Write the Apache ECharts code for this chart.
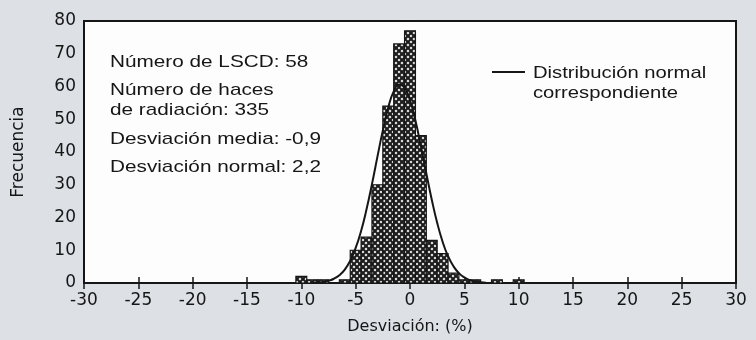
<!DOCTYPE html>
<html lang="es">
<head>
    <meta charset="UTF-8">
    <title>Desviación</title>
    <script src="https://cdn.jsdelivr.net/npm/echarts@6/dist/echarts.min.js"></script>
    <style>
        html, body { margin: 0; padding: 0; background: #dde1e6; }
        #chart { width: 756px; height: 340px; }
    </style>
</head>
<body>
<div id="chart"></div>
<script>
    // histograma: centro de cada clase (ancho 1 %) y frecuencia
    var binCenters = [-10, -9, -8, -6, -5, -4, -3, -2, -1, 0, 1, 2, 3, 4, 5, 6, 8, 10];
    var binCounts  = [2, 1, 1, 1, 10, 14, 30, 54, 73, 77, 45, 13, 9, 3, 1, 1, 1, 1];

    // curva normal
    var curveX = [-9, -8.5, -8, -7.5, -7, -6.5, -6, -5.5, -5, -4.5, -4, -3.5, -3, -2.5, -2, -1.5, -1,
                  -0.5, 0, 0.5, 1, 1.5, 2, 2.5, 3, 3.5, 4, 4.5, 5, 5.5, 6, 6.5, 7];
    var curveY = [0.1, 0.2, 0.3, 0.7, 1.3, 2.4, 4.1, 6.8, 10.7, 15.9, 22.5, 30.2, 38.5, 46.6, 53.6, 58.5, 60.6,
                  59.7, 55.8, 49.6, 41.8, 33.5, 25.5, 18.4, 12.6, 8.2, 5.1, 3.0, 1.7, 0.9, 0.4, 0.2, 0.1];

    var xTicks = [-30, 30, 5];
    var yTicks = [0, 80, 10];

    var infoLines = ['Número de LSCD: 58', 'Número de haces', 'de radiación: 335',
                     'Desviación media: -0,9', 'Desviación normal: 2,2'];
    var legendLines = ['Distribución normal', 'correspondiente'];

    // textura de las barras
    var tile = document.createElement('canvas');
    tile.width = 6; tile.height = 6;
    var tc = tile.getContext('2d');
    tc.fillStyle = '#f4f4f4';
    tc.fillRect(0, 0, 6, 6);
    tc.strokeStyle = '#1c1c1c';
    tc.lineWidth = 2.2;
    tc.beginPath();
    tc.moveTo(-1, -1); tc.lineTo(7, 7);
    tc.moveTo(-1, 7); tc.lineTo(7, -1);
    tc.stroke();
    var hatch = { image: tile, repeat: 'repeat' };

    var font = '17px "Liberation Sans", Arial, sans-serif';
    var wide = '"DejaVu Sans", sans-serif';
    var ink = '#161616';

    var graphics = [];
    var infoY = [62, 90, 110, 139, 167];
    infoLines.forEach(function (t, i) {
        graphics.push({
            type: 'text', x: 110, y: infoY[i], scaleX: 1.22, z: 10,
            style: { text: t, font: font, fill: ink, align: 'left', verticalAlign: 'middle',
                     textAlign: 'left', textVerticalAlign: 'middle' }
        });
    });
    graphics.push({
        type: 'line', z: 10,
        shape: { x1: 492, y1: 72, x2: 525, y2: 72 },
        style: { stroke: ink, lineWidth: 2 }
    });
    legendLines.forEach(function (t, i) {
        graphics.push({
            type: 'text', x: 533, y: 73 + i * 20, scaleX: 1.19, z: 10,
            style: { text: t, font: font, fill: ink, align: 'left', verticalAlign: 'middle',
                     textAlign: 'left', textVerticalAlign: 'middle' }
        });
    });

    var histData = binCenters.map(function (c, i) { return [c, binCounts[i]]; });
    var curveData = curveX.map(function (x, i) { return [x, curveY[i]]; });

    var chart = echarts.init(document.getElementById('chart'));

    var tickStyle = { inside: true, length: 6, lineStyle: { color: ink, width: 1.5 } };
    var labelStyle = { color: ink, fontSize: 17, fontFamily: wide };

    var option = {
        backgroundColor: '#dde1e6',
        animation: false,
        grid: {
            left: 84, right: 20, top: 21, bottom: 57,
            show: true, backgroundColor: '#fdfdfd', borderColor: ink, borderWidth: 2
        },
        xAxis: [{
            type: 'value', min: xTicks[0], max: xTicks[1], interval: xTicks[2],
            name: 'Desviación: (%)', nameLocation: 'middle', nameGap: 36,
            nameTextStyle: { color: ink, fontSize: 16, fontFamily: wide },
            axisLine: { show: false }, axisTick: tickStyle, splitLine: { show: false },
            axisLabel: Object.assign({ margin: 9 }, labelStyle)
        }, {
            type: 'value', position: 'top', min: xTicks[0], max: xTicks[1], interval: xTicks[2],
            axisLine: { show: false }, axisTick: tickStyle, splitLine: { show: false },
            axisLabel: { show: false }
        }],
        yAxis: [{
            type: 'value', min: yTicks[0], max: yTicks[1], interval: yTicks[2],
            name: 'Frecuencia', nameLocation: 'middle', nameGap: 57,
            nameTextStyle: { color: ink, fontSize: 17, fontFamily: wide },
            axisLine: { show: false }, axisTick: tickStyle, splitLine: { show: false },
            axisLabel: Object.assign({ margin: 8 }, labelStyle)
        }, {
            type: 'value', position: 'right', min: yTicks[0], max: yTicks[1], interval: yTicks[2],
            axisLine: { show: false }, axisTick: tickStyle, splitLine: { show: false },
            axisLabel: { show: false }
        }],
        graphic: graphics,
        series: [{
            type: 'custom',
            data: histData,
            renderItem: function (params, api) {
                var c = api.value(0), v = api.value(1);
                var p0 = api.coord([c - 0.5, v]);
                var p1 = api.coord([c + 0.5, 0]);
                return {
                    type: 'rect',
                    shape: { x: p0[0], y: p0[1], width: p1[0] - p0[0], height: p1[1] - p0[1] },
                    style: { fill: hatch, stroke: ink, lineWidth: 1.2 }
                };
            }
        }, {
            type: 'line',
            data: curveData,
            smooth: true,
            showSymbol: false,
            lineStyle: { color: ink, width: 2 },
            z: 5
        }]
    };

    chart.setOption(option);
</script>
</body>
</html>
